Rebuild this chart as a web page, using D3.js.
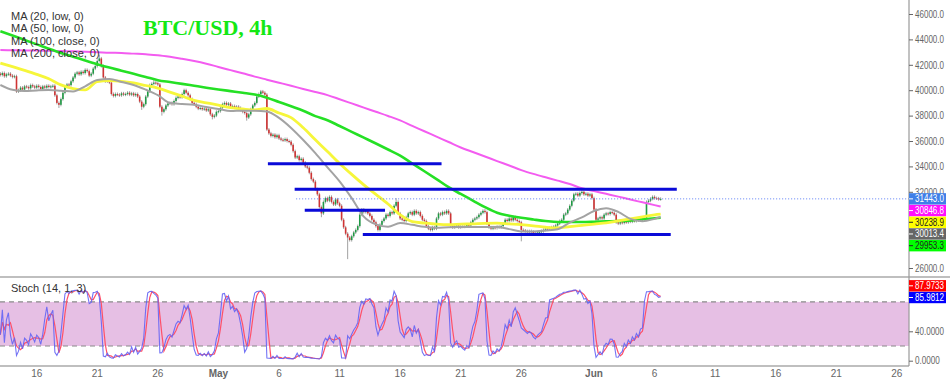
<!DOCTYPE html>
<html>
<head>
<meta charset="utf-8">
<script src="https://cdn.jsdelivr.net/npm/d3@7"></script>
<style>
  body { margin: 0; background: #fff; }
  text { font-family: "Liberation Sans", Arial, sans-serif; }
</style>
</head>
<body>
<svg id="chart"></svg>
<script>
var width = 950,
    height = 382,
    axisX = 909,
    mainBottom = 277,
    stochBottom = 366;

// 4h closes (first candle Apr 13 00:00)
var startTime = new Date(2022, 3, 13, 0, 0);
var firstOpen = 41300;
var closes = [
  41200, 41350, 41100, 41250, 41300, 41150, 41050, 41100, 39900, 40000,
  40200, 40050, 40300, 40250, 40150, 40400, 40300, 40200, 40350, 40250,
  40100, 40300, 40200, 40350, 40250, 40300, 40350, 39600, 39000, 38850,
  39300, 39800, 40300, 40450, 40400, 40700, 41000, 41300, 41400, 41250,
  41450, 41350, 41600, 41500, 41150, 41300, 41700, 41900, 42300, 42500,
  41900, 41000, 40700, 40800, 40600, 39700, 39550, 39700, 39650, 39600,
  39750, 39650, 39700, 39800, 39650, 39750, 39600, 39700, 39500,
  39100, 38700, 38900, 39500, 39900, 40400, 40500, 40600, 40550, 40450,
  38700, 38300, 38500, 38800, 38950, 39000, 38900, 39150, 39400, 39500,
  39450, 39700, 40000, 39800, 39600, 39300, 39000, 38900, 38700, 38550,
  38600, 38500, 38550, 38400, 38500, 38100, 37900, 38000, 38300, 38350,
  38600, 38900, 39000, 38850, 38950, 38700, 38750, 38650, 38700, 38600,
  38450, 38300, 38200, 37850, 38100, 38500, 38800, 39000, 39500, 39700,
  39900, 39800, 39650, 36900, 36600, 36400, 36500, 36300, 36450, 36200,
  36100, 36050, 36150, 36000, 35950, 35700, 35200, 34700, 34800,
  34500, 34600, 34300, 34000, 33900, 33500, 33000, 32800, 32200, 31800,
  30800, 30300, 31200, 31500, 31300, 31600, 31200, 31000, 31400, 31100,
  30900, 29800, 29200, 28700, 28400, 28200, 28500, 28800, 29000, 29300,
  30200, 30600, 30400, 30500, 30300, 30100, 29800, 29600, 29300, 29000,
  29400, 29700, 29900, 30200, 30100, 30400, 30300, 30900, 31200, 30300,
  29900, 29800, 29700, 30000, 30300, 30400, 30200, 30500, 30300, 30400,
  30100, 29800, 29700, 29300, 29100, 29000, 29200, 29100, 29900, 30300,
  30200, 30400, 30300, 30500, 30300, 29300, 29200, 29300, 29350,
  29200, 29300, 29250, 29300, 29400, 29350, 29600, 29800, 29900, 30000,
  30200, 30350, 30500, 30400, 29500, 29200, 29100, 29200, 29150, 29250,
  29200, 29300, 29500, 29800, 29700, 29900, 29750, 30000, 29800, 29700,
  29600, 29000, 28950, 28900, 28850, 28900, 28850, 28750, 28700,
  28800, 28850, 28900, 29000, 29100, 29050, 29150, 29200, 29250, 29350,
  29500, 29700, 29800, 30200, 30300, 30600, 30900, 31300, 31800, 31850,
  31700, 31900, 32000, 31800, 31850, 31700, 31800, 31500, 30600, 29800,
  29900, 30000, 29900, 30200, 30300, 30250, 30400, 30350, 30200, 29600,
  29500, 29600, 29550, 29650, 29600, 29700, 29650, 29750, 29700, 29800,
  29750, 29850, 29800, 29900, 31200, 31300, 31450, 31600, 31500, 31480,
  31420, 31443
];
// long wicks [candle index, price]
var highSpikes = [[49, 42800], [76, 40800], [196, 31500], [240, 30650], [288, 32300]];
var lowSpikes = [[29, 38600], [70, 38450], [80, 38000], [105, 37700], [122, 37600],
                 [159, 30000], [172, 26700], [258, 28100]];
var wickSize = 120;

// moving averages, one value per day (Apr 13 .. Jun 6) + last candle
var ma20 = [40410, 40030, 39930, 39980, 40010, 39960, 39900, 40300, 40800, 40880,
  40650, 40410, 40040, 39610, 38990, 38920, 38850, 38680, 38520, 38360,
  38390, 38390, 38330, 37820, 37030, 36080, 35050, 33930, 32820, 31500,
  30040, 29430, 29250, 29540, 29400, 29240, 29160, 29210, 29230, 29230,
  29230, 29230, 29060, 28880, 28880, 28960, 29050, 29580, 29980, 30490,
  30700, 30420, 29870, 29680, 29870, 30013];
var ma50 = [42140, 41850, 41560, 41250, 40900, 40420, 40130, 40030, 40680, 40750,
  40700, 40570, 40370, 40160, 39850, 39530, 39200, 39010, 38820, 38620,
  38520, 38450, 38560, 38200, 37840, 37040, 36100, 35170, 34230, 33370,
  32550, 31800, 31040, 30190, 29650, 29540, 29450, 29410, 29450, 29480,
  29520, 29530, 29470, 29410, 29320, 29210, 29150, 29260, 29360, 29460,
  29550, 29710, 29870, 30030, 30190, 30239];
var ma100 = [44650, 44310, 43960, 43610, 43260, 42930, 42640, 42340, 42050, 41780,
  41540, 41290, 41040, 40790, 40640, 40500, 40350, 40200, 40060, 39930,
  39800, 39660, 39410, 39070, 38730, 38380, 37960, 37640, 37180, 36720,
  36260, 35800, 35330, 34850, 34230, 33620, 33000, 32360, 31830, 31310,
  30790, 30350, 30120, 29950, 29820, 29700, 29620, 29620, 29620, 29640,
  29670, 29700, 29750, 29840, 29920, 29953];
var ma200 = [43160, 43150, 43130, 43120, 43100, 43090, 43060, 43020, 42990, 42950,
  42930, 42880, 42830, 42760, 42630, 42470, 42300, 42090, 41830, 41580,
  41330, 41070, 40830, 40590, 40350, 40100, 39860, 39610, 39290, 38960,
  38630, 38300, 37970, 37620, 37190, 36770, 36340, 35920, 35490, 35130,
  34780, 34420, 34070, 33710, 33410, 33140, 32880, 32610, 32280, 32060,
  31840, 31620, 31390, 31170, 30950, 30847];

// drawn horizontal levels
var levelPrices = [34200, 32200, 30550, 28640];
var levelStarts = [new Date(2022, 4, 5, 2), new Date(2022, 4, 7, 7), new Date(2022, 4, 8, 3), new Date(2022, 4, 12, 22)];
var levelEnds = [new Date(2022, 4, 19, 10), new Date(2022, 5, 7, 20), new Date(2022, 4, 14, 18), new Date(2022, 5, 7, 8)];
var lastPrice = 31443.0;
var lastLineStart = new Date(2022, 4, 7, 10);

// right side value labels
var priceLabelValues = [31443.0, 30846.8, 30238.9, 30013.4, 29953.3];
var priceLabelColors = ['#3f7fe8', '#ff10ff', '#ffff00', '#666666', '#00ff00'];
var priceLabelText = ['#fff', '#fff', '#222', '#fff', '#222'];
var stochLabelValues = [85.9812, 87.9733];
var stochLabelColors = ['#0000ff', '#ff0000'];

// visible axis numbers (28000, 30000 and 80 sit under the value labels)
var priceTicks = [26000, 32000, 34000, 36000, 38000, 40000, 42000, 44000, 46000];
var stochTicks = [0, 40];
var dateTicks = [new Date(2022, 3, 16), new Date(2022, 3, 21), new Date(2022, 3, 26), new Date(2022, 4, 1),
  new Date(2022, 4, 6), new Date(2022, 4, 11), new Date(2022, 4, 16), new Date(2022, 4, 21),
  new Date(2022, 4, 26), new Date(2022, 5, 1), new Date(2022, 5, 6), new Date(2022, 5, 11),
  new Date(2022, 5, 16), new Date(2022, 5, 21), new Date(2022, 5, 26)];
var dateLabels = ['16', '21', '26', 'May', '6', '11', '16', '21', '26', 'Jun', '6', '11', '16', '21', '26'];
var legendNames = ['MA (20, low, 0)', 'MA (50, low, 0)', 'MA (100, close, 0)', 'MA (200, close, 0)'];

var x = d3.scaleTime()
  .domain([new Date(2022, 3, 13), new Date(2022, 5, 27)])
  .range([0.35, axisX]);
var y = d3.scaleLinear().domain([26000, 46000]).range([268, 14]);
var ys = d3.scaleLinear().domain([0, 100]).range([360.7, 287.2]);

// axis numbers are narrow in the original
function narrow(sel) {
  sel.attr('textLength', function() { return this.textContent.length * 4.15; })
    .attr('lengthAdjust', 'spacingAndGlyphs');
}

var svg = d3.select('#chart')
  .attr('width', width)
  .attr('height', height);

svg.append('rect').attr('width', width).attr('height', height).attr('fill', '#fff');

var defs = svg.append('defs');
defs.append('clipPath').attr('id', 'clipMain')
  .append('rect').attr('width', axisX).attr('height', mainBottom);
defs.append('clipPath').attr('id', 'clipStoch')
  .append('rect').attr('y', mainBottom).attr('width', axisX).attr('height', stochBottom - mainBottom);

// build candles
var candles = closes.map(function(c, i) {
  var o = i === 0 ? firstOpen : closes[i - 1];
  return {
    t: d3.timeHour.offset(startTime, i * 4),
    open: o, close: c,
    high: Math.max(o, c) + wickSize,
    low: Math.min(o, c) - wickSize
  };
});
highSpikes.forEach(function(s) { candles[s[0]].high = s[1]; });
lowSpikes.forEach(function(s) { candles[s[0]].low = s[1]; });
var lastTime = candles[candles.length - 1].t;

var main = svg.append('g').attr('clip-path', 'url(#clipMain)');

var cg = main.append('g');
cg.selectAll('line')
  .data(candles)
  .join('line')
  .attr('x1', d => x(d.t)).attr('x2', d => x(d.t))
  .attr('y1', d => y(d.high)).attr('y2', d => y(d.low))
  .attr('stroke', '#8a8a8a')
  .attr('stroke-width', 0.8);
cg.selectAll('rect')
  .data(candles)
  .join('rect')
  .attr('x', d => x(d.t) - 0.8)
  .attr('width', 1.6)
  .attr('y', d => y(Math.max(d.open, d.close)))
  .attr('height', d => Math.max(1, Math.abs(y(d.open) - y(d.close))))
  .attr('fill', d => d.close >= d.open ? '#1f9a44' : '#cf3434');

// moving averages
var maTimes = d3.timeDay.range(new Date(2022, 3, 13), new Date(2022, 5, 7)).concat([lastTime]);
var maLine = d3.line()
  .x((d, i) => x(maTimes[i]))
  .y(d => y(d))
  .curve(d3.curveMonotoneX);

[[ma200, '#f35cf0', 2], [ma100, '#25e025', 2.6], [ma50, '#f6f63a', 2.8], [ma20, '#a3a3a3', 2]].forEach(function(m) {
  main.append('path')
    .datum(m[0])
    .attr('d', maLine)
    .attr('fill', 'none')
    .attr('stroke', m[1])
    .attr('stroke-width', m[2]);
});

// current price dotted line
main.append('line')
  .attr('x1', x(lastLineStart)).attr('x2', axisX)
  .attr('y1', y(lastPrice)).attr('y2', y(lastPrice))
  .attr('stroke', '#5b7df5')
  .attr('stroke-width', 1)
  .attr('stroke-dasharray', '1,2');

// support / resistance levels
main.selectAll('.level')
  .data(levelPrices)
  .join('line')
  .attr('class', 'level')
  .attr('x1', (d, i) => x(levelStarts[i]))
  .attr('x2', (d, i) => x(levelEnds[i]))
  .attr('y1', d => y(d)).attr('y2', d => y(d))
  .attr('stroke', '#0a0ad8')
  .attr('stroke-width', 3);

// legend + title
svg.selectAll('.legend')
  .data(legendNames)
  .join('text')
  .attr('class', 'legend')
  .attr('x', 11)
  .attr('y', (d, i) => 19.8 + i * 12.5)
  .attr('font-size', 11)
  .attr('fill', '#333')
  .text(d => d);

svg.append('text')
  .attr('x', 143).attr('y', 35)
  .style('font-family', '"Liberation Serif", "Times New Roman", serif')
  .attr('font-size', 22)
  .attr('font-weight', 'bold')
  .attr('fill', '#14e814')
  .text('BTC/USD, 4h');

// stochastic (14, 1, 3)
var K = candles.map(function(c, i) {
  var win = candles.slice(Math.max(0, i - 13), i + 1);
  var hh = d3.max(win, d => d.high), ll = d3.min(win, d => d.low);
  return 100 * (c.close - ll) / (hh - ll);
});
var D = K.map((k, i) => d3.mean(K.slice(Math.max(0, i - 2), i + 1)));

var stoch = svg.append('g').attr('clip-path', 'url(#clipStoch)');
stoch.append('rect')
  .attr('x', 0).attr('width', axisX)
  .attr('y', ys(80)).attr('height', ys(20) - ys(80))
  .attr('fill', '#e6bfe4');
stoch.selectAll('.band')
  .data([20, 80])
  .join('line')
  .attr('class', 'band')
  .attr('x1', 0).attr('x2', axisX)
  .attr('y1', d => ys(d)).attr('y2', d => ys(d))
  .attr('stroke', '#8a8a8a')
  .attr('stroke-width', 1.2)
  .attr('stroke-dasharray', '5,4');

var stLine = d3.line()
  .x((d, i) => x(candles[i].t))
  .y(d => ys(d));
stoch.append('path').datum(D).attr('d', stLine)
  .attr('fill', 'none').attr('stroke', '#ff5068').attr('stroke-width', 1.2);
stoch.append('path').datum(K).attr('d', stLine)
  .attr('fill', 'none').attr('stroke', '#6464f4').attr('stroke-width', 1.1).attr('opacity', 0.9);

svg.append('text')
  .attr('x', 11).attr('y', 292)
  .attr('font-size', 11)
  .attr('fill', '#333')
  .text('Stoch (14, 1, 3)');

// frame lines
svg.append('line').attr('x1', 0).attr('x2', width).attr('y1', mainBottom).attr('y2', mainBottom)
  .attr('stroke', '#aaa').attr('stroke-width', 1.5);
svg.append('line').attr('x1', 0).attr('x2', axisX).attr('y1', stochBottom).attr('y2', stochBottom)
  .attr('stroke', '#aaa').attr('stroke-width', 1.5);
svg.append('line').attr('x1', axisX).attr('x2', axisX).attr('y1', 0).attr('y2', stochBottom)
  .attr('stroke', '#999').attr('stroke-width', 1.2);

// right axes
var priceAxis = svg.append('g')
  .attr('transform', 'translate(' + axisX + ',0)')
  .call(d3.axisRight(y).tickValues(priceTicks).tickFormat(d3.format('.1f')).tickSize(4).tickPadding(2));
var stochAxis = svg.append('g')
  .attr('transform', 'translate(' + axisX + ',0)')
  .call(d3.axisRight(ys).tickValues(stochTicks).tickFormat(d3.format('.4f')).tickSize(4).tickPadding(2));
[priceAxis, stochAxis].forEach(function(a) {
  a.select('.domain').remove();
  a.selectAll('line').attr('stroke', '#666');
  a.selectAll('text').attr('fill', '#666').attr('font-size', 10)
    .style('font-family', '"Liberation Sans", Arial, sans-serif')
    .call(narrow);
});

// value labels on the price axis (stacked downward)
var prevY = -100;
var priceLabelY = priceLabelValues.map(function(v) {
  var yy = Math.max(y(v), prevY + 11.7);
  prevY = yy;
  return yy;
});
var plg = svg.append('g');
priceLabelValues.forEach(function(v, i) {
  plg.append('rect')
    .attr('x', axisX).attr('y', priceLabelY[i] - 5.7)
    .attr('width', 37).attr('height', 11.4)
    .attr('fill', priceLabelColors[i]);
  plg.append('line')
    .attr('x1', axisX).attr('x2', axisX + 4)
    .attr('y1', priceLabelY[i]).attr('y2', priceLabelY[i])
    .attr('stroke', priceLabelText[i]);
  plg.append('text')
    .attr('x', axisX + 6).attr('y', priceLabelY[i]).attr('dy', '0.34em')
    .attr('font-size', 10)
    .attr('fill', priceLabelText[i])
    .text(d3.format('.1f')(v))
    .call(narrow);
});

// stoch labels (stacked upward)
var stochLabelY = [ys(stochLabelValues[0])];
stochLabelY.push(Math.min(ys(stochLabelValues[1]), stochLabelY[0] - 11.7));
stochLabelValues.forEach(function(v, i) {
  plg.append('rect')
    .attr('x', axisX).attr('y', stochLabelY[i] - 5.7)
    .attr('width', 37).attr('height', 11.4)
    .attr('fill', stochLabelColors[i]);
  plg.append('line')
    .attr('x1', axisX).attr('x2', axisX + 4)
    .attr('y1', stochLabelY[i]).attr('y2', stochLabelY[i])
    .attr('stroke', '#fff');
  plg.append('text')
    .attr('x', axisX + 6).attr('y', stochLabelY[i]).attr('dy', '0.34em')
    .attr('font-size', 10)
    .attr('fill', '#fff')
    .text(d3.format('.4f')(v))
    .call(narrow);
});

// date labels
svg.selectAll('.date')
  .data(dateTicks)
  .join('text')
  .attr('class', 'date')
  .attr('x', d => x(d))
  .attr('y', 376.5)
  .attr('text-anchor', 'middle')
  .attr('font-size', 10)
  .attr('font-weight', (d, i) => isNaN(+dateLabels[i]) ? 'bold' : 'normal')
  .attr('fill', '#666')
  .text((d, i) => dateLabels[i]);
</script>
</body>
</html>
